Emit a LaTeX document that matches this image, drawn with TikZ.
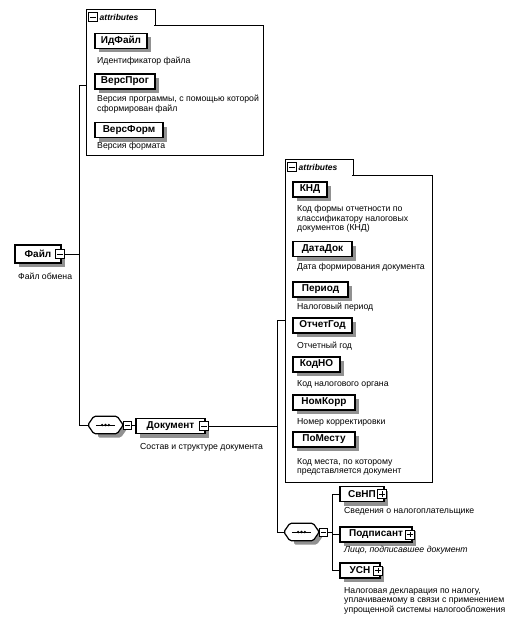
\documentclass[tikz,border=0pt]{standalone}
\usepackage{fontspec}
\setmainfont{Liberation Sans}
\usetikzlibrary{calc}
\definecolor{shadowgray}{RGB}{145,145,145}
\tikzset{
  elem/.style={draw, line width=1.2pt, fill=white, inner xsep=2pt, inner ysep=0pt,
    minimum height=15pt, font=\bfseries\fontsize{10}{12}\selectfont},
  desc/.style={anchor=north west, inner sep=0pt, align=left,
    font=\fontsize{8.7}{9.6}\selectfont},
  minusbox/.style={draw, line width=0.8pt, fill=white, minimum size=9pt, inner sep=0pt,
    path picture={\draw[line width=0.8pt] ([xshift=1.6pt]path picture bounding box.west) -- ([xshift=-1.6pt]path picture bounding box.east);}},
  plusbox/.style={minusbox,
    path picture={\draw[line width=0.8pt] ([xshift=1.6pt]path picture bounding box.west) -- ([xshift=-1.6pt]path picture bounding box.east);
      \draw[line width=0.8pt] ([yshift=-1.6pt]path picture bounding box.north) -- ([yshift=1.6pt]path picture bounding box.south);}},
  seqbox/.style={draw=none, minimum width=35pt, minimum height=17pt, inner sep=0pt},
  panel/.style={draw, line width=0.8pt, fill=white, inner sep=0pt, anchor=north west},
  tabtext/.style={anchor=west, inner sep=0pt, font=\bfseries\itshape\fontsize{8.5}{10}\selectfont},
  conn/.style={line width=0.8pt},
  shadowfill/.style={fill=shadowgray, draw=none}
}
% #1 name, #2 cx, #3 cy, #4 width, #5 height, #6 text
\newcommand\elemnode[6]{%
  \fill[shadowfill] ({#2-#4/2+4},{#3-#5/2+4}) rectangle ({#2+#4/2+4},{#3+#5/2+4});
  \node[elem, minimum width=#4pt, minimum height=#5pt] (#1) at (#2,#3) {#6};}
% #1 name, #2 cx, #3 cy
\newcommand\seqnode[3]{%
  \fill[shadowfill, rounded corners=1.5pt] ({#2-17.5+10},{#3-8.5+4}) -- ({#2+17.5-2},{#3-8.5+4}) -- ({#2+17.5+4},{#3+4}) -- ({#2+17.5-2},{#3+8.5+4}) -- ({#2-17.5+10},{#3+8.5+4}) -- cycle;
  \node[seqbox] (#1) at (#2,#3) {};
  \draw[line width=1.2pt, fill=white, rounded corners=1.5pt] ($(#1.north west)+(6,0)$) -- ($(#1.north east)+(-6,0)$) -- (#1.east) -- ($(#1.south east)+(-6,0)$) -- ($(#1.south west)+(6,0)$) -- (#1.west) -- cycle;
  \draw[line width=0.9pt] ($(#1.west)+(8,0)$) -- ($(#1.east)+(-8,0)$);
  \foreach \d in {-3.3,0,3.3} \fill ($(#1.center)+(\d,0)$) circle (1.3pt);}
\begin{document}
\begin{tikzpicture}[x=1pt,y=-1pt]
\useasboundingbox (0,0) rectangle (524,623);
% ---------- panel 1
\node[panel, minimum width=177pt, minimum height=130pt] (p1) at (86,25) {};
\node[panel, minimum width=69pt, minimum height=16pt] (t1) at (86,9) {};
\fill[white] (86.6,24) rectangle (154.4,26);
\node[minusbox] (t1m) at (93,17) {};
\node[tabtext] (t1t) at (99.5,17) {attributes};

\elemnode{idf}{121}{41}{52}{15}{ИдФайл}
\node[desc] (idfd) at (97,57) {Идентификатор файла};
\elemnode{vp}{125}{81.5}{60}{15}{ВерсПрог}
\node[desc] (vpd) at (97,95) {Версия программы, с помощью которой\\сформирован файл};
\elemnode{vf}{129}{130}{68}{15}{ВерсФорм}
\node[desc] (vfd) at (97,142) {Версия формата};

% ---------- root
\elemnode{f}{38}{254}{46}{18}{Файл\hspace{8pt}}
\node[minusbox] (fm) at (60,254) {};
\node[desc] (fd) at (18,273) {Файл обмена};

\coordinate (a1) at (79,85);
\coordinate (a2) at (79,425);
\draw[conn] (fm.east) -- (fm.east -| a1);

% ---------- sequence 1
\seqnode{s1}{105.5}{425}
\node[minusbox, minimum size=8pt] (s1m) at (127.5,425) {};
\draw[conn] (p1.west |- a1) -- (a1) -- (a2) -- (s1.west);

\elemnode{doc}{170.5}{426}{69}{15}{Документ\hspace{6pt}}
\node[minusbox] (docm) at (204,426) {};
\draw[conn] (s1m.east) -- (doc.west |- s1m.east);
\node[desc] (docd) at (140,443) {Состав и структуре документа};

% ---------- panel 2
\node[panel, minimum width=147pt, minimum height=307pt] (p2) at (285,175) {};
\node[panel, minimum width=68pt, minimum height=16pt] (t2) at (285,159) {};
\fill[white] (285.6,174) rectangle (352.4,176);
\node[minusbox] (t2m) at (292,167) {};
\node[tabtext] (t2t) at (298.5,167) {attributes};

\elemnode{knd}{310}{189.5}{34}{15}{КНД}
\node[desc] (kndd) at (297,205) {Код формы отчетности по\\классификатору налоговых\\документов (КНД)};
\elemnode{dd}{322.5}{249}{59}{15}{ДатаДок}
\node[desc] (ddd) at (297,263) {Дата формирования документа};
\elemnode{per}{320.5}{289.5}{55}{15}{Период}
\node[desc] (perd) at (297,303) {Налоговый период};
\elemnode{og}{322.5}{325.5}{59}{15}{ОтчетГод}
\node[desc] (ogd) at (297,342) {Отчетный год};
\elemnode{kno}{316.5}{364.5}{47}{15}{КодНО}
\node[desc] (knod) at (297,380) {Код налогового органа};
\elemnode{nk}{324}{402.5}{62}{15}{НомКорр}
\node[desc] (nkd) at (297,418) {Номер корректировки};
\elemnode{pm}{324}{439.5}{62}{15}{ПоМесту}
\node[desc] (pmd) at (297,458) {Код места, по которому\\представляется документ};

\coordinate (b1) at (277,320);
\coordinate (b2) at (277,532);
\draw[conn] (docm.east) -- (docm.east -| b1);
\draw[conn] (p2.west |- b1) -- (b1) -- (b2);

% ---------- sequence 2
\seqnode{s2}{301.5}{532}
\node[minusbox, minimum size=8pt] (s2m) at (323.5,532) {};
\draw[conn] (b2) -- (s2.west);

\elemnode{svnp}{362}{494}{44}{15}{СвНП\hspace{8pt}}
\node[plusbox] (svnpm) at (382,494) {};
\node[desc] (svnpd) at (344,507) {Сведения о налогоплательщике};
\elemnode{pod}{376}{534.5}{72}{15}{Подписант\hspace{8pt}}
\node[plusbox] (podm) at (410,534.5) {};
\node[desc, font=\itshape\fontsize{8.7}{9.6}\selectfont] (podd) at (344,546) {Лицо, подписавшее документ};
\elemnode{usn}{360}{570.5}{40}{15}{УСН\hspace{8pt}}
\node[plusbox] (usnm) at (378,570.5) {};
\node[desc] (usnd) at (344,587) {Налоговая декларация по налогу,\\уплачиваемому в связи с применением\\упрощенной системы налогообложения};

\coordinate (c1) at (332,494);
\coordinate (c2) at (332,570.5);
\draw[conn] (s2m.east) -- (s2m.east -| c1);
\draw[conn] (svnp.west) -- (c1) -- (c2) -- (usn.west);
\draw[conn] (pod.west) -- (pod.west -| c1);
\end{tikzpicture}
\end{document}
